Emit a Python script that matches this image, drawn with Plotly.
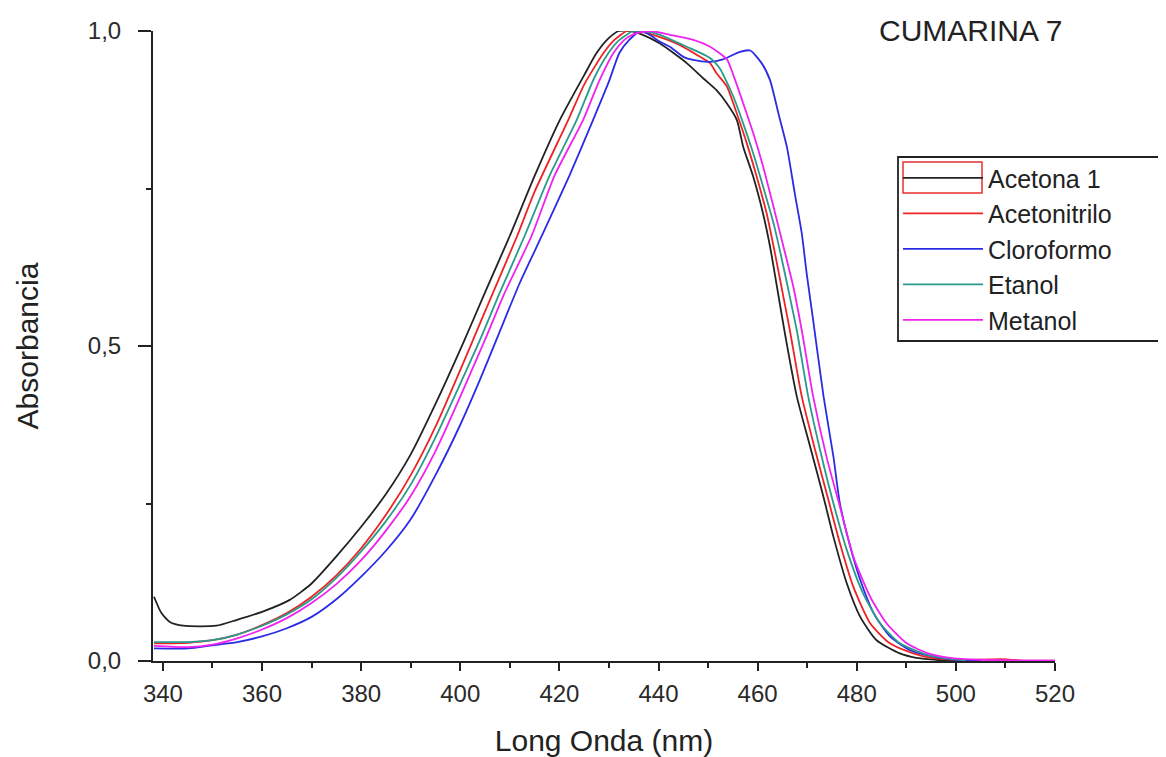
import plotly.graph_objects as go

# ---- Data ----
acetona_x = [338.2, 339.7, 341.4, 344.1, 350.8, 354.8, 360, 365.6, 370, 375, 380, 385, 390, 395, 400.6,
             405, 410, 415, 420.1, 425, 427.5, 430, 432, 434.5, 436.5, 440.3, 445.7, 449, 451.7, 453.8,
             455.8, 457.1, 459.1, 461.1, 462.5, 463.9, 465.5, 467.9, 470.6, 473.3, 475.3, 478, 480.7,
             484, 488.7, 492, 496, 500]
acetona_y = [0.102, 0.076, 0.062, 0.056, 0.056, 0.065, 0.078, 0.097, 0.123, 0.166, 0.213, 0.265, 0.328,
             0.408, 0.505, 0.585, 0.675, 0.77, 0.859, 0.93, 0.965, 0.989, 1.0, 1.0, 0.995, 0.98, 0.949,
             0.925, 0.906, 0.885, 0.859, 0.816, 0.769, 0.71, 0.658, 0.594, 0.52, 0.42, 0.34, 0.26,
             0.197, 0.123, 0.07, 0.033, 0.012, 0.005, 0.002, 0.0]

acetonitrilo_x = [338.2, 345, 350, 355, 360, 365, 370, 375, 380, 385, 390, 395, 402.6, 405, 411.5, 415,
                  421.8, 425, 428.9, 431, 433.6, 436, 438.9, 443.7, 448.4, 450.4, 451.7, 453.8, 455.8,
                  457.8, 459.8, 461.8, 463.5, 465.2, 466.5, 468.9, 471.6, 474.3, 476.6, 479.3, 482.7,
                  486.7, 491.4, 495, 500, 505, 509, 513]
acetonitrilo_y = [0.028, 0.029, 0.033, 0.042, 0.057, 0.076, 0.102, 0.136, 0.179, 0.232, 0.295, 0.372,
                  0.51, 0.555, 0.675, 0.745, 0.859, 0.915, 0.965, 0.985, 1.0, 1.0, 0.994, 0.98, 0.959,
                  0.949, 0.933, 0.912, 0.869, 0.822, 0.769, 0.711, 0.647, 0.578, 0.525, 0.42, 0.335,
                  0.255, 0.187, 0.118, 0.06, 0.028, 0.012, 0.005, 0.002, 0.002, 0.003, 0.001]

cloroformo_x = [338.2, 345, 350, 355, 360, 365, 370, 375, 380, 385, 390, 395, 400, 404, 407.3, 412,
                416.7, 422, 426.8, 430, 432.1, 434, 436.3, 438, 440.3, 442.3, 445, 447, 450.4, 453,
                456.4, 458.5, 460.8, 462.5, 464.2, 465.9, 467.5, 468.9, 469.9, 471.2, 473.3, 475.3,
                476.6, 478.7, 480.7, 483.4, 486.7, 490.8, 495.5, 500, 505]
cloroformo_y = [0.02, 0.02, 0.025, 0.03, 0.039, 0.052, 0.07, 0.098, 0.134, 0.175, 0.225, 0.295, 0.375,
                0.447, 0.51, 0.60, 0.679, 0.77, 0.859, 0.92, 0.965, 0.985, 1.0, 0.995, 0.983, 0.975,
                0.959, 0.954, 0.951, 0.955, 0.967, 0.969, 0.949, 0.922, 0.869, 0.816, 0.742, 0.679,
                0.615, 0.541, 0.42, 0.324, 0.25, 0.181, 0.129, 0.076, 0.039, 0.017, 0.007, 0.002, 0.0]

etanol_x = [338.2, 345, 350, 355, 360, 365, 370, 375, 380, 385, 390, 395, 404, 408, 413, 418, 423.5,
            427, 429.9, 432, 434.9, 437, 440.3, 445.7, 450.4, 452.4, 453.1, 455.1, 457.1, 459.1, 461.1,
            463.2, 464.9, 466.5, 467.9, 470.2, 472.6, 475.3, 478, 481.3, 484.7, 488.7, 494.1, 498, 502]
etanol_y = [0.03, 0.03, 0.033, 0.042, 0.056, 0.074, 0.098, 0.132, 0.174, 0.222, 0.28, 0.355, 0.51,
            0.585, 0.675, 0.77, 0.859, 0.925, 0.965, 0.985, 1.0, 1.0, 0.994, 0.975, 0.957, 0.94, 0.93,
            0.896, 0.853, 0.806, 0.753, 0.695, 0.637, 0.578, 0.525, 0.42, 0.335, 0.25, 0.176, 0.107,
            0.06, 0.028, 0.01, 0.004, 0.001]

metanol_x = [338.2, 345, 350, 355, 360, 365, 370, 375, 380, 385, 390, 395, 405, 409, 414.4, 419, 424.8,
             428, 430.9, 433, 435, 438.3, 442.3, 447, 450.4, 453.8, 455.1, 457.1, 459.1, 461.1, 463.2,
             465.2, 467.2, 468.9, 471.2, 473.9, 476.6, 479.3, 482.7, 486, 490.1, 494.1, 498.8, 505,
             512, 520]
metanol_y = [0.024, 0.022, 0.026, 0.036, 0.05, 0.068, 0.092, 0.122, 0.16, 0.207, 0.262, 0.333, 0.51, 0.585,
             0.675, 0.77, 0.859, 0.92, 0.965, 0.985, 0.995, 1.0, 0.994, 0.986, 0.975, 0.955, 0.93,
             0.885, 0.838, 0.785, 0.721, 0.658, 0.594, 0.525, 0.42, 0.324, 0.245, 0.166, 0.102, 0.06,
             0.028, 0.013, 0.005, 0.002, 0.001, 0.001]

series_names = ["Acetona 1", "Acetonitrilo", "Cloroformo", "Etanol", "Metanol"]
series_colors = ["#222222", "#ee2424", "#2b2be6", "#2a9a8c", "#f022f0"]
series_x = [acetona_x, acetonitrilo_x, cloroformo_x, etanol_x, metanol_x]
series_y = [acetona_y, acetonitrilo_y, cloroformo_y, etanol_y, metanol_y]

x_tickvals = [340, 360, 380, 400, 420, 440, 460, 480, 500, 520]
y_tickvals = [0.0, 0.5, 1.0]

# ---- Figure (page body has an 8px margin) ----
OFF = 8
W, H = 1150, 749
L, T = 145, 23
pw, ph = 902, 630
R, B = W - L - pw, H - T - ph

def px2paper(xp, yp):
    # xp, yp are page pixel positions in the reference picture
    return (xp - OFF - L) / pw, (H - B - (yp - OFF)) / ph

fig = go.Figure()
for name, col, xs, ys in zip(series_names, series_colors, series_x, series_y):
    fig.add_trace(go.Scatter(x=xs, y=ys, mode="lines", name=name,
                             line=dict(color=col, width=1.8, shape="spline", smoothing=0.6)))

font_main = "Liberation Sans, Arial, sans-serif"

lx, ly = px2paper(898, 157)
fig.update_layout(
    width=W, height=H,
    margin=dict(l=L, r=R, t=T, b=B, autoexpand=False),
    paper_bgcolor="white", plot_bgcolor="white",
    separators=",.",
    font=dict(family=font_main, color="#222222"),
    showlegend=True,
    legend=dict(
        x=lx, y=ly + 0.003, xanchor="left", yanchor="top",
        bgcolor="rgba(0,0,0,0)", borderwidth=0,
        font=dict(family=font_main, size=25, color="#222222"),
        itemwidth=80, tracegroupgap=0,
    ),
    xaxis=dict(
        range=[338, 520], tickvals=x_tickvals, showgrid=False, zeroline=False,
        showline=True, linecolor="#222222", linewidth=2,
        ticks="outside", ticklen=8, tickwidth=2, tickcolor="#222222",
        minor=dict(dtick=10, tick0=340, ticks="outside", ticklen=5, tickwidth=2, tickcolor="#222222"),
        tickfont=dict(family=font_main, size=24, color="#2a2a2a"),
        ticklabelstandoff=2,
        title=dict(text="Long Onda (nm)", font=dict(family=font_main, size=30, color="#222222"),
                   standoff=24),
    ),
    yaxis=dict(
        range=[0, 1.0], tickvals=y_tickvals, tickformat=".1f", showgrid=False, zeroline=False,
        showline=True, linecolor="#222222", linewidth=2,
        ticks="outside", ticklen=13, tickwidth=2, tickcolor="#222222",
        minor=dict(dtick=0.25, tick0=0, ticks="outside", ticklen=5, tickwidth=2, tickcolor="#222222"),
        tickfont=dict(family=font_main, size=24, color="#2a2a2a"),
        ticklabelstandoff=12,
        title=dict(text="Absorbancia", font=dict(family=font_main, size=30, color="#222222"),
                   standoff=40),
    ),
)

# Title text inside the plot
tx, ty = px2paper(877, 30)
fig.add_annotation(text="CUMARINA 7", xref="paper", yref="paper", x=tx, y=ty,
                   xanchor="left", yanchor="middle", showarrow=False,
                   font=dict(family=font_main, size=30, color="#222222"))

# Legend frame (white box with dark border), drawn under the legend entries
fx0, fy0 = px2paper(898, 341)
fx1, fy1 = px2paper(1163, 157)
fig.add_shape(type="rect", xref="paper", yref="paper", x0=fx0, y0=fy0, x1=fx1, y1=fy1,
              line=dict(color="#222222", width=1.8), fillcolor="white", layer="above")

# Red selection box around the first legend sample
x0, y0 = px2paper(903, 193)
x1, y1 = px2paper(982, 162)
fig.add_shape(type="rect", xref="paper", yref="paper", x0=x0, y0=y0, x1=x1, y1=y1,
              line=dict(color="#e83030", width=1.5), fillcolor="rgba(0,0,0,0)", layer="above")

fig.write_html("out.html")
